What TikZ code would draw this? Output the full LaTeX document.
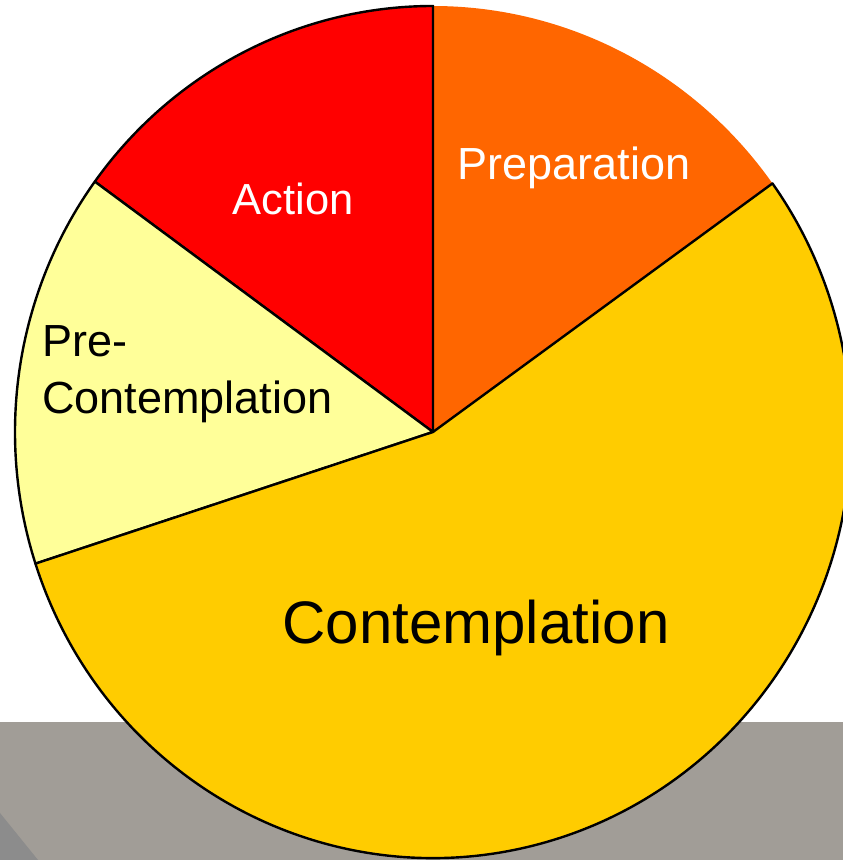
\documentclass[tikz,border=0pt]{standalone}
\usepackage{fontspec}
\setmainfont{Liberation Sans}
\definecolor{prep}{HTML}{FF6600}
\definecolor{act}{HTML}{FF0000}
\definecolor{precon}{HTML}{FFFF99}
\definecolor{con}{HTML}{FFCC00}
\definecolor{band}{HTML}{A19D97}
\definecolor{banddark}{HTML}{8C8C8C}
\begin{document}
\begin{tikzpicture}[x=1pt,y=1pt,
  slice/.style={draw=black,line width=2.4pt,line join=round},
  lbl/.style={inner sep=0pt,font=\fontsize{45}{56}\selectfont,align=left}]
\useasboundingbox (0,0) rectangle (843,860);
\clip (0,0) rectangle (843,860);
\fill[white] (0,0) rectangle (843,860);
\fill[band] (0,0) rectangle (843,138);
\fill[banddark] (0,0) -- (0,47) -- (38,0) -- cycle;
\coordinate (c) at (433,428);
% Preparation (outer arc not outlined)
\fill[prep] (c) -- ++(35.7:418 and 426) arc[start angle=35.7,end angle=90,x radius=418,y radius=426] -- cycle;
% Action
\filldraw[slice,fill=act] (c) -- ++(0,426) arc[start angle=90,end angle=144,x radius=418,y radius=426] -- cycle;
% Pre-Contemplation
\filldraw[slice,fill=precon] (c) -- ++(144:418 and 426) arc[start angle=144,end angle=198,x radius=418,y radius=426] -- cycle;
% Contemplation
\filldraw[slice,fill=con] (c) -- ++(198:418 and 426) arc[start angle=198,end angle=395.7,x radius=418,y radius=426] -- cycle;
\node[lbl,text=white] (nprep) at (574,692) {Preparation};
\node[lbl,text=white,font=\fontsize{43.5}{50}\selectfont] (nact) at (293,661) {Action};
\node[lbl,anchor=base west] (npre) at (42,503) {Pre-};
\node[lbl,anchor=base west] (npre2) at (42,446) {Contemplation};
\node[lbl,font=\fontsize{60}{70}\selectfont] (ncon) at (476,232) {Contemplation};
\end{tikzpicture}
\end{document}
